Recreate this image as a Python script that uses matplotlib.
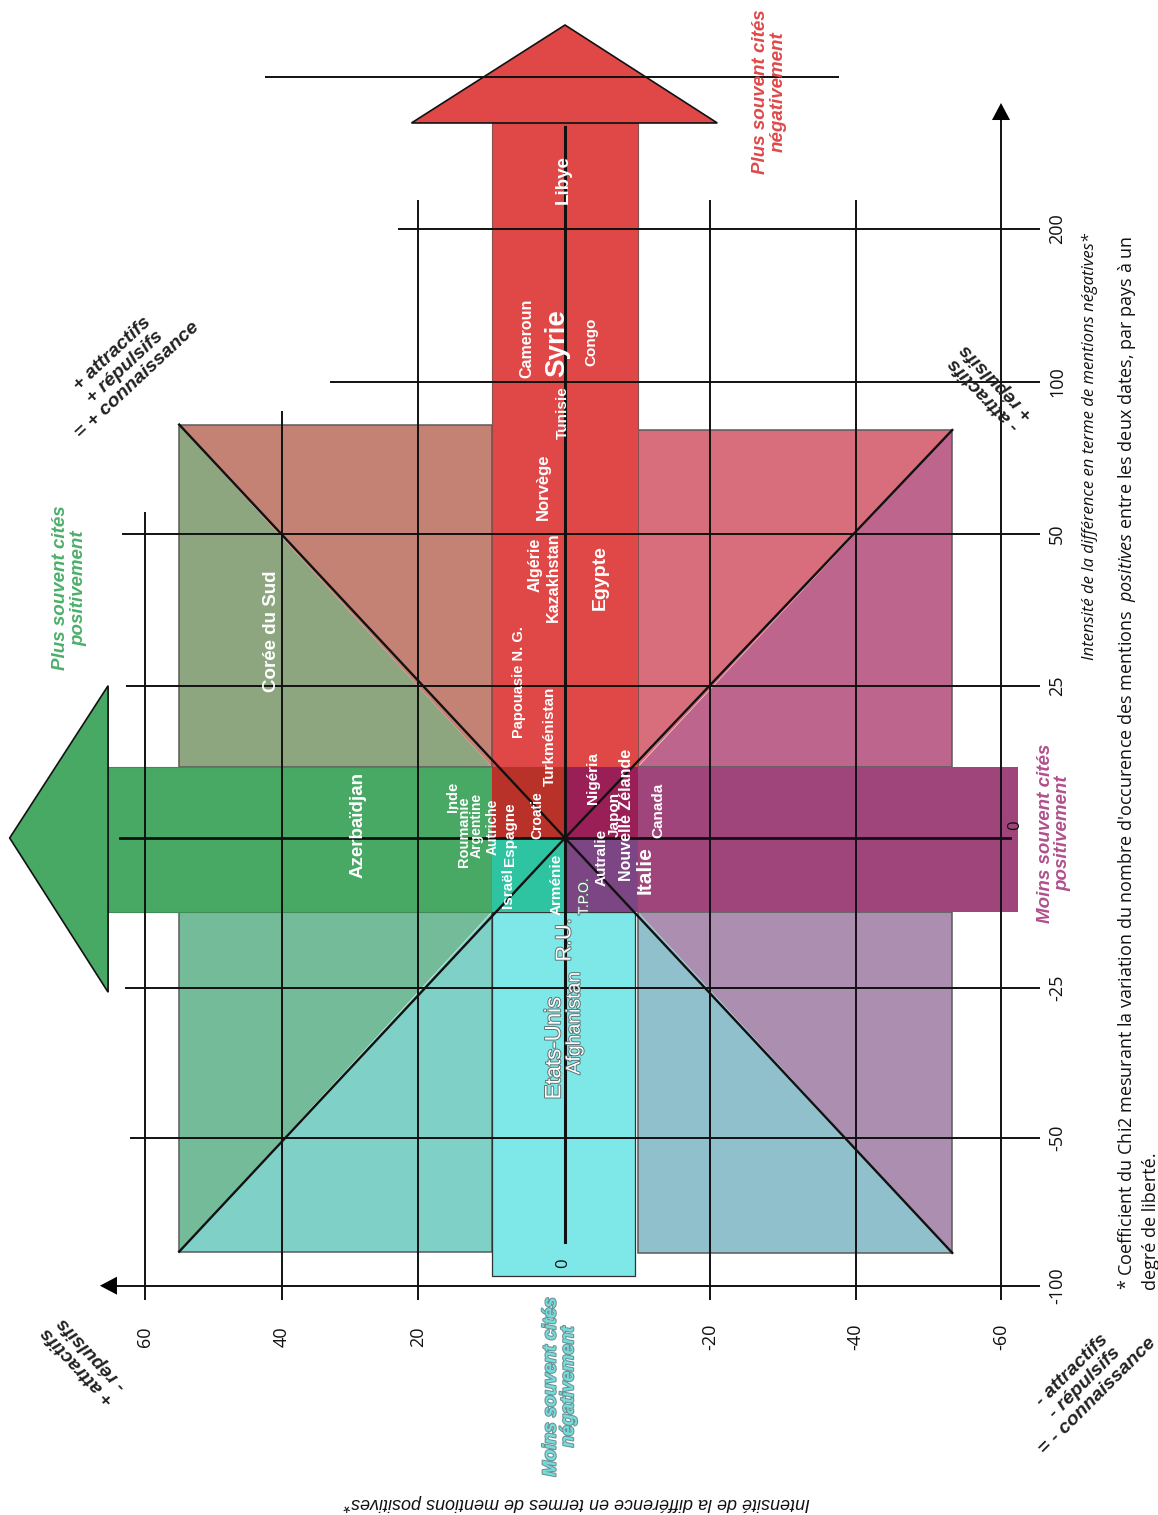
import numpy as np
import matplotlib
matplotlib.use("Agg")
import matplotlib.pyplot as plt
from matplotlib.patches import Polygon
import matplotlib.patheffects as pe

plt.rcParams['mathtext.fontset'] = 'custom'
plt.rcParams['mathtext.rm'] = 'Open Sans'
plt.rcParams['mathtext.it'] = 'Open Sans:italic'

W, H = 1158, 1515

# ---------------- data ----------------
U_TICKS = [60, 40, 20, 0, -20, -40, -60]                 # positive mentions (horizontal)
U_TICK_LABELS = ['60', '40', '20', '0', '-20', '-40', '-60']
V_TICKS = [-100, -50, -25, 0, 25, 50, 100, 200, 400]     # negative mentions (vertical)
V_TICK_LABELS = ['-100', '-50', '-25', '0', '25', '50', '100', '200', '']

COUNTRIES = ['Azerbaïdjan', 'Corée du Sud', 'Inde', 'Roumanie', 'Argentine', 'Autriche',
             'Espagne', 'Israël', 'Croatie', 'Turkménistan', 'Papouasie N. G.', 'Arménie',
             'Nigéria', 'Japon', 'Nouvelle Zélande', 'Canada', 'Autralie', 'T.P.O.', 'Italie',
             'R.U.', 'Etats-Unis', 'Afghanistan', 'Libye', 'Cameroun', 'Syrie', 'Congo',
             'Tunisie', 'Norvège', 'Algérie', 'Kazakhstan', 'Egypte']
COUNTRY_U = [28.8, 41.5, 15.3, 13.8, 12.1, 9.8, 7.5, 7.8, 3.8, 2.0, 6.3, 1.1,
             -3.9, -6.9, -8.5, -12.9, -5.1, -2.6, -11.0,
             0.0, 1.4, -1.4, 0.3, 5.2, 1.1, -3.7,
             0.3, 3.0, 4.1, 1.6, -4.8]
COUNTRY_V = [2.1, 34.0, 6.7, 1.1, 2.0, 1.8, 0.7, -8.3, 3.8, 16.7, 25.6, -7.8,
             9.9, 3.8, 3.8, 4.6, -3.2, -9.8, -5.3,
             -17.0, -35.0, -30.8, 264.5, 128.8, 125.5, 126.1,
             89.8, 65.5, 44.9, 42.9, 42.9]
LABEL_SIZE = [13.5, 13.5, 10.5, 10.5, 10, 10, 11, 11, 10, 11, 10.5, 11,
              11, 11, 11.5, 11, 11, 10, 15,
              15.5, 16, 14, 13.5, 11.5, 20, 11,
              11, 12, 11.5, 11.5, 14]
OUTLINED = {'T.P.O.', 'R.U.', 'Etats-Unis', 'Afghanistan'}

# zone limits (data units)
U_IN_POS, U_IN_NEG = 10.0, -10.0
V_IN_POS, V_IN_NEG = 11.7, -12.3
U_OUT_POS, U_OUT_NEG = 55.0, -53.3
V_OUT_TL, V_OUT_TR = 86.0, 84.2
V_OUT_BL, V_OUT_BR = -88.5, -88.9
GREEN_END, GREEN_TIP, GREEN_HALF = (65.4, 79.8, (25.0, -25.7))
RED_END, RED_TIP, RED_HALF = (339.5, 468.4, (21.0, -21.0))
CYAN_END = -96.7
PURPLE_END = -62.3

# ---------------- scale (tick screen positions) ----------------
U_POS = [145, 281.7, 418.3, 565, 710, 855.5, 1001]
V_POS = [1285.7, 1137.7, 988, 838, 685.7, 534, 382, 229, 77]


def _pw(x, xp, fp):
    x = np.asarray(x, dtype=float)
    xp = np.asarray(xp, float)
    fp = np.asarray(fp, float)
    y = np.interp(x, xp, fp)
    s0 = (fp[1] - fp[0]) / (xp[1] - xp[0])
    s1 = (fp[-1] - fp[-2]) / (xp[-1] - xp[-2])
    y = np.where(x < xp[0], fp[0] + (x - xp[0]) * s0, y)
    y = np.where(x > xp[-1], fp[-1] + (x - xp[-1]) * s1, y)
    return y


ua = np.array(U_TICKS[::-1], float)
ux = -np.array(U_POS[::-1], float)
va = np.array(V_TICKS, float)
vy = H - np.array(V_POS, float)


def fx(u): return _pw(u, ua, ux)
def fxi(t): return _pw(t, ux, ua)
def fy(v): return _pw(v, va, vy)
def fyi(t): return _pw(t, vy, va)


fig = plt.figure(figsize=(W / 100, H / 100), dpi=100)
ax = fig.add_axes([0, 0, 1, 1])
ax.set_xscale('function', functions=(fx, fxi))
ax.set_yscale('function', functions=(fy, fyi))
ax.set_xlim(float(fxi(0.0)), float(fxi(-W)))
ax.set_ylim(float(fyi(0.0)), float(fyi(H)))
ax.axis('off')

LBL = ['Liberation Sans', 'DejaVu Sans']
NUM = ['Open Sans', 'DejaVu Sans']


def poly(pts, fc, ec='none', lw=0, z=1):
    ax.add_patch(Polygon(pts, closed=True, facecolor=fc, edgecolor=ec, linewidth=lw, zorder=z))


# quadrant squares split in two triangles
sq_ec = '#5a5a5a'
# top-left
poly([(U_OUT_POS, V_OUT_TL), (U_OUT_POS, V_IN_POS), (U_IN_POS, V_IN_POS)], '#8ea680', z=1)
poly([(U_OUT_POS, V_OUT_TL), (U_IN_POS, V_OUT_TL), (U_IN_POS, V_IN_POS)], '#c48274', z=1)
poly([(U_OUT_POS, V_OUT_TL), (U_IN_POS, V_OUT_TL), (U_IN_POS, V_IN_POS), (U_OUT_POS, V_IN_POS)],
     'none', sq_ec, 1.1, z=1.5)
# bottom-left
poly([(U_OUT_POS, V_IN_NEG), (U_OUT_POS, V_OUT_BL), (U_IN_POS, V_IN_NEG)], '#74bb9a', z=1)
poly([(U_OUT_POS, V_OUT_BL), (U_IN_POS, V_OUT_BL), (U_IN_POS, V_IN_NEG)], '#7fd0c6', z=1)
poly([(U_OUT_POS, V_IN_NEG), (U_IN_POS, V_IN_NEG), (U_IN_POS, V_OUT_BL), (U_OUT_POS, V_OUT_BL)],
     'none', sq_ec, 1.1, z=1.5)
# top-right
poly([(U_IN_NEG, V_OUT_TR), (U_OUT_NEG, V_OUT_TR), (U_IN_NEG, V_IN_POS)], '#d86e7b', z=1)
poly([(U_OUT_NEG, V_OUT_TR), (U_OUT_NEG, V_IN_POS), (U_IN_NEG, V_IN_POS)], '#be658e', z=1)
poly([(U_IN_NEG, V_OUT_TR), (U_OUT_NEG, V_OUT_TR), (U_OUT_NEG, V_IN_POS), (U_IN_NEG, V_IN_POS)],
     'none', sq_ec, 1.1, z=1.5)
# bottom-right
poly([(U_IN_NEG, V_IN_NEG), (U_OUT_NEG, V_IN_NEG), (U_OUT_NEG, V_OUT_BR)], '#ab8eb0', z=1)
poly([(U_IN_NEG, V_IN_NEG), (U_IN_NEG, V_OUT_BR), (U_OUT_NEG, V_OUT_BR)], '#8fc0cb', z=1)
poly([(U_IN_NEG, V_IN_NEG), (U_OUT_NEG, V_IN_NEG), (U_OUT_NEG, V_OUT_BR), (U_IN_NEG, V_OUT_BR)],
     'none', sq_ec, 1.1, z=1.5)

# big arrows / bands
poly([(U_IN_POS, V_IN_POS), (GREEN_END, V_IN_POS), (GREEN_END, V_IN_NEG), (U_IN_POS, V_IN_NEG)],
     '#47a964', '#3d8c56', 0.8, z=2)
poly([(GREEN_END, GREEN_HALF[0]), (GREEN_TIP, 0), (GREEN_END, GREEN_HALF[1])],
     '#47a964', '#111111', 1.2, z=2)
poly([(U_IN_POS, V_IN_POS), (U_IN_NEG, V_IN_POS), (U_IN_NEG, RED_END), (U_IN_POS, RED_END)],
     '#e04848', '#8a5050', 0.8, z=2)
poly([(RED_HALF[0], RED_END), (0, RED_TIP), (RED_HALF[1], RED_END)],
     '#e04848', '#111111', 1.2, z=2)
poly([(U_IN_POS, V_IN_NEG), (U_IN_NEG + 0.4, V_IN_NEG), (U_IN_NEG + 0.4, CYAN_END), (U_IN_POS, CYAN_END)],
     '#7ee8e8', '#333333', 0.9, z=2)
poly([(U_IN_NEG, V_IN_POS), (PURPLE_END, V_IN_POS), (PURPLE_END, V_IN_NEG), (U_IN_NEG, V_IN_NEG)],
     '#a0457c', 'none', 0, z=2)
# centre cells
poly([(U_IN_POS, 0), (0, 0), (0, V_IN_POS), (U_IN_POS, V_IN_POS)], '#b8322a', z=3)
poly([(0, 0), (U_IN_NEG, 0), (U_IN_NEG, V_IN_POS), (0, V_IN_POS)], '#9b1f57', z=3)
poly([(U_IN_POS, 0), (0, 0), (0, V_IN_NEG), (U_IN_POS, V_IN_NEG)], '#2ec4a2', z=3)
poly([(0, 0), (U_IN_NEG, 0), (U_IN_NEG, V_IN_NEG), (0, V_IN_NEG)], '#7c4584', z=3)

# grid lines
GL = dict(color='#111111', lw=1.4, zorder=4, solid_capstyle='butt')
v_bottom = -104.8
u_right = -65.4
vert_spans = {60: 57.2, 40: 90.5, 20: 238, -20: 238, -40: 238, -60: 343.4}
for u, vtop in vert_spans.items():
    ax.plot([u, u], [v_bottom, vtop], **GL)
ax.plot([0, 0], [-85.2, 334], color='#111111', lw=2.2, zorder=4)
hor_spans = {-100: (64.1, u_right), -50: (62.2, u_right), -25: (62.9, u_right),
             25: (62.8, u_right), 50: (63.4, u_right), 100: (32.9, u_right),
             200: (23.0, u_right), 400: (42.4, -37.8)}
for v, (u0, u1) in hor_spans.items():
    ax.plot([u0, u1], [v, v], **GL)
ax.plot([63.6, -61.2], [0, 0], color='#111111', lw=2.0, zorder=4)

# axis arrowheads
poly([(-60 + 1.24, 343.4), (-60, 365.8), (-60 - 1.24, 343.4)], '#000000', z=4)
poly([(64.1, -100 + 3.04), (66.6, -100), (64.1, -100 - 3.04)], '#000000', z=4)

# diagonals
for (cu, cv) in [(U_OUT_POS, V_OUT_TL), (U_OUT_POS, V_OUT_BL), (U_OUT_NEG, V_OUT_TR), (U_OUT_NEG, V_OUT_BR)]:
    ax.plot([0, cu], [0, cv], color='#111111', lw=1.7, zorder=5)

# tick labels
for t, lab in zip(U_TICKS, U_TICK_LABELS):
    if t == 0:
        continue
    ax.text(t, -117.3, lab, rotation=90, ha='center', va='center', fontsize=13,
            family=NUM, color='#111111', zorder=6)
for t, lab in zip(V_TICKS, V_TICK_LABELS):
    if t == 0 or not lab:
        continue
    ax.text(-67.7, t, lab, rotation=90, ha='center', va='center', fontsize=13,
            family=NUM, color='#111111', zorder=6)
ax.text(0.3, -92.3, '0', rotation=90, ha='center', va='center', fontsize=12,
        family=NUM, color='#111111', zorder=6)
ax.text(-61.9, 2.1, '0', rotation=90, ha='center', va='center', fontsize=12,
        family=NUM, color='#111111', zorder=6)

# country labels
for name, u, v, s in zip(COUNTRIES, COUNTRY_U, COUNTRY_V, LABEL_SIZE):
    if name in OUTLINED:
        ax.text(u, v, name, rotation=90, ha='center', va='center', fontsize=s,
                family=LBL, color='white', zorder=7,
                path_effects=[pe.withStroke(linewidth=1.3, foreground='#5a6a6a')])
    else:
        ax.text(u, v, name, rotation=90, ha='center', va='center', fontsize=s,
                family=LBL, fontweight='bold', color='white', zorder=7)

# zone captions
cap = dict(rotation=90, ha='center', va='center', multialignment='center', fontsize=13.5,
           family=LBL, fontweight='bold', fontstyle='italic', zorder=7, linespacing=1.05)
ax.text(71.0, 41.1, 'Plus souvent cités\npositivement', color='#4caf6a', **cap)
ax.text(-28.2, 380.3, 'Plus souvent cités\nnégativement', color='#e04848', **cap)
ax.text(-67.3, 0.8, 'Moins souvent cités\npositivement', color='#b0508d', **cap)
ax.text(0.7, -134.2, 'Moins souvent cités\nnégativement', color='#74dcdc',
        path_effects=[pe.withStroke(linewidth=1.5, foreground='#6f8f90')], **cap)

diag = dict(ha='center', va='center', multialignment='center', fontsize=14,
            family=LBL, fontweight='bold', fontstyle='italic', color='#222222',
            zorder=7, linespacing=1.1, rotation_mode='anchor')
ax.text(62.9, 109.8, '+ attractifs\n+ répulsifs\n= + connaissance', rotation=43, **diag)
ax.text(-71.5, -133.0, '- attractifs\n- répulsifs\n= - connaissance', rotation=45, **diag)
ax.text(68.8, -125.1, '+ attractifs\n- répulsifs', rotation=133, **diag)
ax.text(-58.5, 98.0, '- attractifs\n+ répulsifs', rotation=134, **diag)

# axis titles
ax.text(-1.6, -173.4, 'Intensité de la différence en termes de mentions positives*', rotation=180,
        ha='center', va='center', fontsize=13, family=LBL, fontstyle='italic',
        color='#111111', zorder=7)
ax.text(-72.2, 78.6, 'Intensité de la différence en terme de mentions négatives*',
        rotation=90, ha='center', va='center', fontsize=12, family=NUM, fontstyle='italic',
        color='#111111', zorder=7)

# footnote
ax.text(-77.3, -101.5, "* Coefficient du Chi2 mesurant la variation du nombre d'occurence des "
        "mentions  $\\mathit{positives}$ entre les deux dates, par pays à un",
        rotation=90, ha='center', va='bottom', fontsize=13, family=NUM, color='#111111', zorder=7)
ax.text(-80.6, -101.5, 'degré de liberté.', rotation=90, ha='center', va='bottom',
        fontsize=13, family=NUM, color='#111111', zorder=7)

fig.savefig('out.png', dpi=100)
